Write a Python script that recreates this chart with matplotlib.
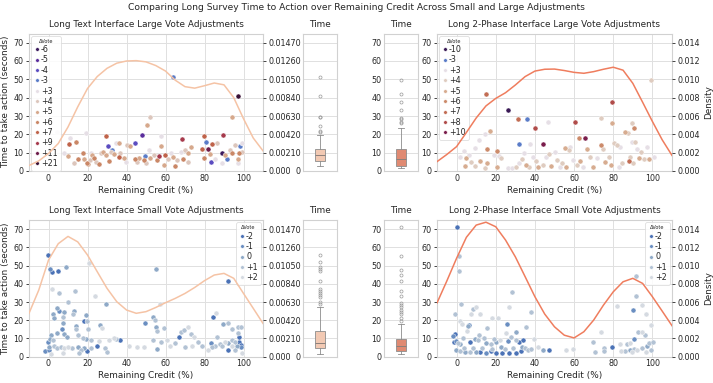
import numpy as np
import matplotlib
matplotlib.use("Agg")
import matplotlib.pyplot as plt
from matplotlib.lines import Line2D

# ---------------- data ----------------

kde_credit = list(range(-10, 115, 5))

# Long Text, large adjustments
tl_credit = [8, 10.6, 10.9, 10.2, 14.3, 13.1, 15.3, 17.9, 19, 18.2, 19.9, 21.3, 21.6, 22.5, 23.3, 20.4,
             24.2, 25.9, 26.7, 27.9, 29.3, 30.5, 29.3, 31, 31.8, 32.7, 33.5, 34.7, 36.4, 36.9, 36.4,
             38.6, 39.5, 40.3, 42, 44.2, 44.2, 45.4, 46.3, 48, 49.3, 48.8, 50, 50.5, 52.2, 51.7, 52.2,
             53.9, 55.6, 56.8, 57.8, 57.8, 59.5, 59, 61.2, 63, 63.6, 65, 65.8, 68.7, 68, 70, 71.4,
             73.1, 69.2, 71.4, 78.6, 79.9, 80.6, 79.9, 82, 82.8, 83.3, 84, 86.2, 85.4, 89.6, 89.1,
             90.5, 91.3, 88.8, 93, 93.9, 94.2, 95.6, 97, 97.6, 98.1, 99.3, 99, 97.3, 63.8, 97.4, 4.3]
tl_time = [10, 15, 17.8, 8.2, 16, 4.5, 6.3, 10, 20.5, 6.3, 4.5, 6, 10, 8.7, 6.9, 3.8,
           5.1, 3.8, 9.6, 10.5, 19, 13.8, 8.7, 5.6, 10.5, 11.4, 9.2, 15.4, 15.1, 9.6, 7.4,
           6.9, 5.1, 14.2, 13.6, 15.1, 6.3, 5.1, 6.9, 19.6, 8.2, 6, 4.5, 25, 29.2, 11.4, 6.9,
           8.7, 6, 8.2, 19, 13.6, 8.7, 3.2, 6.3, 10, 7.4, 2.7, 6, 17.2, 10.5, 11.4, 9.6,
           12.9, 6.3, 5.1, 11.8, 19, 16, 6.9, 11.8, 9.2, 5.1, 14.5, 15.1, 6.3, 19.6, 9.6,
           8.7, 6.3, 4.5, 11.4, 9.6, 29.6, 14.2, 6.3, 9.6, 13.6, 15.1, 10.5, 4.2, 51.1, 41.1, 21.1]
tl_vote = ['+3', '+7', '+3', '+5', '+6', '+4', '+6', '+6', '+3', '+5', '+6', '+4', '+3', '+5', '+6', '+5',
           '+4', '+6', '+4', '+5', '+7', '-4', '+5', '+6', '+4', '-3', '+5', '+3', '+5', '+4', '+7',
           '+5', '+3', '+4', '+5', '-4', '+6', '+4', '+5', '-5', '-3', '+6', '+4', '+5', '+4', '+3', '+5',
           '+4', '+6', '+9', '+3', '+5', '+7', '+5', '+4', '+3', '+5', '+6', '+4', '+9', '+3', '+4', '+5',
           '+5', '+6', '+4', '+7', '+7', '-3', '+6', '+11', '+5', '-4', '+7', '+4', '+3', '+9', '-6',
           '+5', '-3', '+3', '+4', '+6', '+5', '+4', '+5', '+6', '-3', '+3', '+4', '+3', '-3', '+21', '+3']
tl_order = ['-6', '-5', '-4', '-3', '+3', '+4', '+5', '+6', '+7', '+9', '+11', '+21']
tl_colors = ['#3b1a5c', '#5a2d9c', '#5b4cc0', '#5a7cc8', '#e6dfe6', '#dcc6bc', '#d6a88c', '#ca8766',
             '#bf634a', '#a63a4c', '#6e1c4a', '#3a1035']
tl_density = [0.00063, 0.00116, 0.00200, 0.00315, 0.00504, 0.00735, 0.00945, 0.01082, 0.01176,
              0.01235, 0.01260, 0.01264, 0.01250, 0.01208, 0.01145, 0.01040, 0.00966, 0.00949,
              0.00977, 0.01008, 0.00987, 0.00840, 0.00599, 0.00378, 0.00231]
tl_box = dict(whislo=2.7, q1=5.6, med=8.7, q3=11.8, whishi=19.8,
              fliers=[21.5, 21.9, 24.8, 29.3, 29.6, 41.1, 51.1])

# Long 2-Phase, large adjustments
tr_credit = [14.8, 26, 31.5, 35.8, 39.8, 46.7, 60.4, 65.6, 62.7, 44.1, 32, 37.7, 79.4, 73.7, 79.4, 89.7,
             90.5, 86.2, 87.4, 99.2, 16.9, 14.5, 11.4, 9.3, 15.3, 20.8, 3.6, 1.6, 4.8, 6.2, 7.6, 4.5,
             12.2, 15.7, 14.5, 19.1, 21.7, 22.6, 20.8, 9.3, 26, 28.2, 30.3, 31.7, 33.4, 34.3, 35.5,
             37.2, 38.9, 40.6, 41.5, 44.1, 45.8, 47.2, 48.4, 50.1, 51.3, 52.7, 54, 55.3, 57.8, 57.5,
             56.1, 59.6, 61.3, 63, 64.7, 66.5, 68.2, 69.9, 71.6, 73.9, 74.7, 75.9, 77.6, 78.8, 80.2,
             81.9, 83.3, 84.5, 88, 88.5, 89.7, 90.9, 92.3, 94, 93.1, 95.7, 97.1, 98.3, 100.9, 90.2, 82.8]
tr_time = [42, 33.3, 28.2, 28.2, 23.6, 26.9, 26.6, 17.8, 17.8, 14.7, 14.6, 14.6, 37.5, 28.7, 26.4, 26.4,
           23.3, 21.5, 20.9, 49.6, 22, 20, 16.9, 12.4, 11.8, 10.9, 11.1, 7.5, 6.9, 8.7, 5.1, 2.7,
           5.6, 4.2, 1.8, 8.7, 8.2, 6.9, 2.4, 2.7, 1.8, 1.8, 2.4, 4.6, 6.4, 9.6, 3.3,
           2.4, 7.5, 5.6, 2.4, 3.3, 7.5, 9.3, 2.7, 10.6, 6, 2.4, 4.2, 12.6, 13.3, 11.5,
           2.4, 6, 3.3, 5.6, 2.4, 11.8, 7.5, 2.4, 6.9, 14.2, 11.8, 5.1, 7.5, 3.3, 15.1,
           14.2, 12.9, 4.6, 5.6, 7.5, 16, 16, 11.8, 10.6, 6.9, 6.4, 12.9, 6.4, 7.5, 4.2, 2]
tr_vote = ['+7', '-10', '+7', '-3', '+8', '+3', '+8', '+10', '+6', '+10', '-3', '+3', '+8', '+4', '+5', '+4',
           '+6', '+5', '+4', '+4', '+5', '+3', '+3', '+3', '+6', '+6', '+3', '+3', '+5', '+3', '+4', '+5',
           '+5', '+5', '+4', '+3', '+3', '+4', '+5', '+4', '+3', '+3', '+4', '+3', '+4', '+3', '+5',
           '+4', '+3', '+4', '+5', '+4', '+3', '+4', '+5', '+3', '+4', '+3', '+4', '+5', '+3', '+4',
           '+5', '+3', '+4', '+5', '+3', '+5', '+4', '+5', '+3', '+6', '+4', '+5', '+4', '+5', '+4',
           '+4', '+3', '+4', '+7', '+4', '+3', '+4', '+3', '+4', '+5', '+4', '+3', '+5', '+3', '+4', '+3']
tr_order = ['-10', '-3', '+3', '+4', '+5', '+6', '+7', '+8', '+10']
tr_colors = ['#3a1a55', '#5a7cc8', '#e6dfe6', '#dfccc0', '#d7ac90', '#cc8b6b', '#c26d54', '#b04c4a', '#7a1d4c']
tr_density = [0.00102, 0.00180, 0.00266, 0.00420, 0.00578, 0.00710, 0.00792, 0.00854, 0.00938,
              0.01030, 0.01090, 0.01110, 0.01112, 0.01096, 0.01076, 0.01066, 0.01084, 0.01110,
              0.01132, 0.01100, 0.00956, 0.00750, 0.00540, 0.00340, 0.00170]
tr_box = dict(whislo=1.5, q1=2.9, med=6.4, q3=11.8, whishi=23.6,
              fliers=[26.4, 27.0, 28.2, 28.7, 33.3, 37.5, 42, 49.6])

# Long Text, small adjustments
bl_credit = [-0.2, 0.7, 2.05, 4.9, 8.9, 20.8, 1.7, 5.4, 13.4, 10.2, 23.6, 29.3, 55.1, 91.8, 4.4, 5.5,
             2.4, 8, 2.9, 7.2, 12.6, 13.1, 19.4, 18.2, 19.9, 7.5, 6.8, 14.3, 14.3, 20.4, 26.2, 27.2,
             8, 4.6, 1.2, 0.7, -0.5, 2.4, 9.7, 15.3, 17.7, 19.1, 21.6, 25.9, 31, 33.5, 34.7, 36.9,
             0.35, -1.7, 0, 2.9, 4.6, 6.3, 8, 10.2, 11.9, 15.3, 16.5, 18.2, 19.9, 21.6, 25, 28.9,
             30.1, 15.7, 1.2, 7.2, 41.2, 45.4, 48.8, 49.7, 53.4, 54.4, 55.1, 55.6, 59, 57.3, 53.4,
             55.6, 57.8, 60.7, 62.4, 65, 66.7, 68, 69.7, 71.4, 73.1, 74.8, 70.1, 73.5, 76.9, 78.6,
             84.5, 85.7, 89.6, 91.8, 94.2, 97.3, 98.7, 97, 86.2, 83.3, 85.4, 87.9, 90.5, 92.2, 93.9,
             95.6, 97.6, 98.7, 92.2, 82, 83.7, 95.6, 99, 89.1, 94.2, 96.9, 97.8, 98.6]
bl_time = [55.8, 47.9, 46.6, 47, 49, 51.6, 37.1, 34.8, 36.2, 30, 33.3, 28.9, 47.9, 41.3, 26.9, 25.1,
           23.4, 24.7, 21, 21.6, 23.4, 25.2, 22.7, 19.8, 19.8, 18.7, 15, 16.8, 15, 15, 17.4, 15.6,
           12.4, 12.8, 11.9, 9.5, 8.2, 9.2, 11, 11.9, 10.1, 9.5, 9.2, 8.8, 9.2, 10.1, 9.5, 9.2,
           5.5, 3.3, 3.7, 5.9, 4.6, 5.5, 4.6, 5.5, 4.6, 5.1, 3.7, 4.6, 3.3, 4.6, 5.9, 4.6,
           2.8, 1.8, 1.5, 2.2, 5.9, 5.5, 5.1, 18.3, 21.9, 20.1, 16.1, 14.3, 15.6, 28.9, 9.2,
           4, 8.2, 9.2, 5.9, 7.3, 11, 13.7, 14.6, 16.1, 12.4, 10.6, 5.1, 5.9, 8.2, 5.9,
           21.6, 24.1, 17.9, 18.7, 15, 16.1, 16.1, 13.2, 11, 7.7, 5.9, 7, 8.2, 7.3, 9.2,
           8.2, 8.2, 5.1, 3.7, 3.7, 5.1, 3.7, 2.2, 5.9, 5.9, 5.9, 11, 6.4]
bl_vote = ['-2', '-1', '-2', '-2', '0', '+2', '+2', '+1', '+1', '+1', '+2', '0', '0', '-2', '0', '-1',
           '0', '0', '0', '+1', '+1', '0', '0', '-2', '+1', '0', '-1', '0', '+1', '+1', '0', '+2',
           '0', '0', '0', '0', '-1', '+1', '0', '+1', '+1', '0', '+1', '+2', '+2', '+2', '+1', '-2',
           '0', '-1', '-1', '+1', '+1', '+1', '+2', '+2', '+1', '0', '+1', '0', '-2', '+1', '-2', '+1',
           '+1', '+1', '+2', '+2', '+2', '+2', '+2', '-1', '0', '+1', '0', '+1', '+1', '+2', '+1',
           '0', '+1', '+2', '+2', '+1', '-2', '+1', '+1', '+2', '+1', '+2', '+1', '+2', '+1', '+1',
           '-2', '+2', '0', '+1', '+1', '+1', '+1', '+1', '+1', '-1', '+1', '+1', '+2', '0', '+1',
           '+1', '-2', '-1', '-2', '+2', '+1', '+1', '+2', '+1', '+2', '0', '-2', '-2']
small_order = ['-2', '-1', '0', '+1', '+2']
small_colors = ['#4b72b6', '#6a8ec1', '#8ea9c7', '#b2c2d4', '#d5dae1']
bl_density = [0.00500, 0.00767, 0.01113, 0.01302, 0.01386, 0.01323, 0.01172, 0.00979, 0.00788,
              0.00634, 0.00538, 0.00500, 0.00519, 0.00567, 0.00622, 0.00672, 0.00729, 0.00798,
              0.00876, 0.00941, 0.00960, 0.00903, 0.00729, 0.00557, 0.00384]
bl_box = dict(whislo=1.5, q1=4.7, med=7.3, q3=14.1, whishi=27.1,
              fliers=[28.9, 30.2, 32.9, 34.0, 35.1, 36.2, 37.3, 41.7, 46.8, 47.9, 49.0, 51.7, 55.7])

# Long 2-Phase, small adjustments
br_credit = [0.2, 1, 1, 2.3, 28.2, -0.7, 1.9, 2.8, 5.7, 6.4, 7.6, 10, 12.2, 8.3, 15.7, 18.3, 21.4,
             26.9, 25.5, 30.3, 35.5, 38.1, -2, -0.7, -1.5, -0.3, 0.7, 1.9, 3.1, 5.4, 6.6, 9.3, 11,
             11.4, 14, 14.8, 17.4, 19.1, 20.3, 22, 25.1, 26, 27.7, 30.3, 32, 34.1, 33.4, 35.1, 36.3,
             39.3, 41.5, 44.1, 47.2, 32.9, 30.3, 26.9, 23.4, 20, 17.4, 14.8, 12.2, 9.7, 7.1, 4.5,
             1.9, -0.3, 3.6, 8.3, 13.1, 18.3, 22.6, 24.8, 28.6, 38.1, 56.1, 59.6, 69.5, 73.9, 70.8,
             75.1, 75.1, 79.4, 82, 90.2, 91.8, 91.4, 94.9, 96.9, 99.2, 92.6, 94.9, 96.1, 90.5, 88.8,
             87.1, 83.3, 84, 86.2, 88.5, 90.5, 92.3, 94.9, 97.1, 98.3, 100.5, 99.2, 96.6, 89.7]
br_time = [71.3, 55.4, 47.2, 28.9, 35.6, 23.2, 19.6, 17.7, 17, 17.4, 23.2, 27.4, 23.2, 26.1, 15.9, 21.4, 21.4,
           27.4, 17.7, 13.7, 16.1, 24.7, 11.5, 12.2, 7.9, 8.6, 7.3, 6.8, 10.4, 14, 8.2, 9.7, 9.1,
           11.9, 10.4, 7.3, 6.8, 9.7, 8.2, 9.1, 12.8, 8.6, 10.9, 9.1, 8.2, 9.1, 5.5, 4.9, 3.6,
           9.5, 5.5, 3.6, 3.6, 3.1, 1.8, 1.8, 1.8, 1.8, 3.1, 1.8, 2.7, 2.7, 2.4, 2.7,
           3.1, 3.6, 4.9, 4.6, 4.9, 4.2, 5.5, 4.2, 4.9, 4.2, 3.6, 4.2, 7.8, 13.7, 2.4,
           4.9, 3.1, 5.3, 28, 25.4, 33.3, 44.4, 28.3, 23.2, 17.4, 13.7, 13.7, 11.9, 9.7, 7.3,
           6.8, 6.8, 3.1, 3.1, 3.6, 4.2, 3.6, 4.6, 6, 7.3, 7.8, 3.6, 2.7, 2.4]
br_vote = ['-2', '+1', '+1', '+1', '+1', '+1', '+2', '+2', '0', '-1', '+2', '+2', '+2', '+1', '+1', '+2', '+2',
           '+2', '-1', '0', '+1', '+1', '-1', '-2', '-2', '-1', '+1', '0', '+1', '+2', '-2', '0', '+1',
           '+1', '+1', '0', '+1', '+1', '0', '+2', '+2', '-1', '+1', '+1', '-2', '-2', '0', '+1', '+1',
           '+2', '+2', '0', '-2', '-2', '-2', '-2', '-2', '-2', '-2', '-1', '-2', '0', '+1', '0',
           '+1', '0', '+1', '+1', '+1', '+1', '0', '+1', '+1', '+1', '+2', '+2', '+1', '+2', '+1',
           '+1', '+1', '-2', '+2', '-1', '+1', '+1', '+2', '+2', '+2', '+1', '+2', '+1', '-1', '+2',
           '+1', '+2', '+2', '+1', '0', '+1', '+2', '+1', '0', '+1', '+1', '+1', '+2', '+2']
br_density = [0.00590, 0.00830, 0.01080, 0.01310, 0.01444, 0.01476, 0.01426, 0.01280, 0.01096,
              0.00878, 0.00658, 0.00468, 0.00328, 0.00236, 0.00206, 0.00274, 0.00402, 0.00566,
              0.00712, 0.00822, 0.00860, 0.00804, 0.00658, 0.00500, 0.00340]
br_box = dict(whislo=1.4, q1=3.3, med=5.8, q3=9.5, whishi=17.7,
              fliers=[19.6, 21.4, 23.2, 24.7, 25.6, 27.4, 28.3, 29.2, 33.3, 36.2, 41.7, 44.8, 47.5, 55.4, 71.3])

text_ticks = [0, 0.0021, 0.0042, 0.0063, 0.0084, 0.0105, 0.0126, 0.0147]
text_tick_labels = ['0.000', '0.00210', '0.00420', '0.00630', '0.00840', '0.01050', '0.01260', '0.01470']
phase_ticks = [0, 0.002, 0.004, 0.006, 0.008, 0.010, 0.012, 0.014]
phase_tick_labels = ['0.000', '0.002', '0.004', '0.006', '0.008', '0.010', '0.012', '0.014']

text_line = '#f5c3a5'
phase_line = '#ef7d5e'
text_box = '#f2c9b3'
phase_box = '#e08a72'

# ---------------- style ----------------
plt.rcParams.update({
    'font.family': 'DejaVu Sans',
    'font.size': 5.8,
    'text.color': '.15',
    'axes.labelcolor': '.15',
    'xtick.color': '.15',
    'ytick.color': '.15',
    'axes.edgecolor': '.82',
    'axes.linewidth': 0.8,
    'grid.color': '.88',
    'grid.linewidth': 0.7,
    'xtick.labelsize': 5.8,
    'ytick.labelsize': 5.8,
})

W, H = 713, 383
fig = plt.figure(figsize=(W / 100, H / 100), dpi=100)


def px_axes(left, right, top, bottom):
    return fig.add_axes([left / W, 1 - bottom / H, (right - left) / W, (bottom - top) / H])


def draw_scatter(ax, credit, time, vote, order, colors, density, dticks, dlabels, dtop,
                 line_color, title, legend_loc, ylabel, dens_label):
    credit = np.array(credit)
    time = np.array(time)
    vote = np.array(vote)
    for lab, col in zip(order, colors):
        m = vote == lab
        ax.scatter(credit[m], time[m], s=13, color=col, edgecolor='white', linewidth=0.3, zorder=3)
    ax.set_xlim(-10, 110)
    ax.set_ylim(0, 75)
    ax.set_xticks([0, 20, 40, 60, 80, 100])
    ax.set_yticks(range(0, 80, 10))
    ax.grid(True, zorder=0)
    ax.set_axisbelow(True)
    ax.tick_params(axis='x', length=0, pad=2)
    ax.tick_params(axis='y', length=2.5, width=0.6, pad=1.5, color='.15')
    ax.set_xlabel('Remaining Credit (%)', fontsize=6.4, labelpad=2)
    ax.set_title(title, fontsize=6.4, pad=5)
    if ylabel:
        ax.set_ylabel('Time to take action (seconds)', fontsize=6.4, labelpad=2)
    handles = [Line2D([], [], marker='o', ls='', color=c, markersize=2.6,
                      markeredgecolor='white', markeredgewidth=0.3) for c in colors]
    leg = ax.legend(handles, order, title='\u0394Vote', title_fontsize=3.6, fontsize=5.8,
                    loc=legend_loc, handlelength=0.6, handletextpad=0.25, labelspacing=0.17,
                    borderpad=0.35, borderaxespad=0.3, frameon=True, framealpha=0.85,
                    edgecolor='.85', fancybox=True)
    leg.get_frame().set_linewidth(0.6)

    tw = ax.twinx()
    tw.plot(kde_credit, density, color=line_color, lw=1.1)
    tw.set_ylim(0, dtop)
    tw.set_yticks(dticks)
    tw.set_yticklabels(dlabels)
    tw.grid(False)
    tw.tick_params(axis='y', length=2.5, width=0.6, pad=1.5, color='.15')
    for s in tw.spines.values():
        s.set_visible(False)
    if dens_label:
        tw.set_ylabel('Density', fontsize=6.4, labelpad=3)
    return tw


def draw_box(ax, stats, color, full_labels):
    st = dict(stats)
    st['mean'] = st['med']
    ax.bxp([st], positions=[0], widths=0.3, patch_artist=True, showfliers=True, showcaps=True,
           capwidths=0.15,
           boxprops=dict(facecolor=color, edgecolor='#8c8c8c', linewidth=0.6),
           medianprops=dict(color='#8c7f7a', linewidth=0.7),
           whiskerprops=dict(color='#8c8c8c', linewidth=0.6),
           capprops=dict(color='#8c8c8c', linewidth=0.6),
           flierprops=dict(marker='o', markersize=2.2, markerfacecolor='none',
                           markeredgecolor='#9a9a9a', markeredgewidth=0.5))
    ax.set_xlim(-0.5, 0.5)
    ax.set_ylim(0, 75)
    ax.set_xticks([])
    ax.set_yticks(range(0, 80, 10))
    if full_labels:
        ax.set_yticklabels([str(v) for v in range(0, 80, 10)])
    else:
        ax.set_yticklabels(['0'] + [''] * 7)
    ax.tick_params(axis='y', length=0, pad=2)
    ax.grid(True, axis='y', zorder=0)
    ax.set_axisbelow(True)
    ax.set_title('Time', fontsize=6.4, pad=5)


# top row
ax_tl = px_axes(29, 263, 33.5, 171)
box_tl = px_axes(303, 337, 33.5, 171)
box_tr = px_axes(384, 418, 33.5, 171)
ax_tr = px_axes(437, 672, 33.5, 171)
# bottom row
ax_bl = px_axes(29, 263, 220, 356.7)
box_bl = px_axes(303, 337, 220, 356.7)
box_br = px_axes(384, 418, 220, 356.7)
ax_br = px_axes(437, 672, 220, 356.7)

draw_scatter(ax_tl, tl_credit, tl_time, tl_vote, tl_order, tl_colors, tl_density,
             text_ticks, text_tick_labels, 0.01575, text_line,
             'Long Text Interface Large Vote Adjustments', 'upper left', True, False)
draw_box(box_tl, tl_box, text_box, False)

draw_box(box_tr, tr_box, phase_box, True)
draw_scatter(ax_tr, tr_credit, tr_time, tr_vote, tr_order, tr_colors, tr_density,
             phase_ticks, phase_tick_labels, 0.015, phase_line,
             'Long 2-Phase Interface Large Vote Adjustments', 'upper left', False, True)

draw_scatter(ax_bl, bl_credit, bl_time, bl_vote, small_order, small_colors, bl_density,
             text_ticks, text_tick_labels, 0.01575, text_line,
             'Long Text Interface Small Vote Adjustments', 'upper right', True, False)
draw_box(box_bl, bl_box, text_box, False)

draw_box(box_br, br_box, phase_box, True)
draw_scatter(ax_br, br_credit, br_time, br_vote, small_order, small_colors, br_density,
             phase_ticks, phase_tick_labels, 0.015, phase_line,
             'Long 2-Phase Interface Small Vote Adjustments', 'upper right', False, True)

fig.suptitle('Comparing Long Survey Time to Action over Remaining Credit Across Small and Large Adjustments',
             fontsize=6.6, y=1 - 7 / H, va='center')

fig.savefig('out.png', dpi=100)
